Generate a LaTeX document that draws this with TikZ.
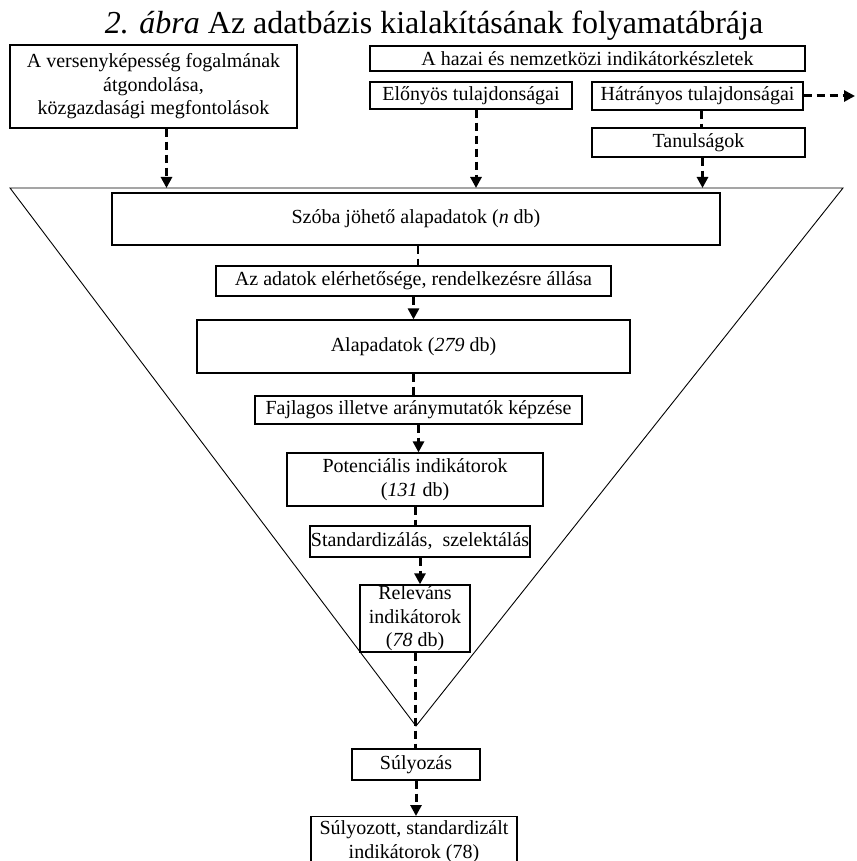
\documentclass[tikz,border=0pt]{standalone}
\usepackage{fontspec}
\setmainfont{Liberation Serif}
\usetikzlibrary{arrows.meta}
\tikzset{
  box/.style={draw, line width=1.2pt, inner sep=1pt, align=center,
              font=\fontsize{20}{23.5}\selectfont},
  funnel/.style={draw, line width=0.9pt},
  link/.style={line width=3pt, dash pattern=on 8pt off 5pt},
  thinlink/.style={link, line width=1.6pt},
  arrow/.style={link, -{Triangle[length=11pt,width=11pt]}}
}

\begin{document}
\begin{tikzpicture}[x=1pt, y=-1pt]
  \useasboundingbox (0,0) rectangle (856,861);
  \node[anchor=base, font=\fontsize{32}{38}\selectfont] (title) at (434,34)
    {\textit{2. ábra} Az adatbázis kialakításának folyamatábrája};

  % funnel
  \coordinate (tl) at (10,188);
  \coordinate (tr) at (843,188);
  \coordinate (tip) at (416,726);
  \draw[funnel] (tl) -- (tr) -- (tip) -- cycle;

  % sources on top
  \node[box, minimum width=287pt, minimum height=83pt] (conc) at (153.5,86.5)
    {A versenyképesség fogalmának\\átgondolása,\\közgazdasági megfontolások};
  \node[box, minimum width=435pt, minimum height=25pt] (kesz) at (587.5,58.5)
    {A hazai és nemzetközi indikátorkészletek};
  \node[box, minimum width=202pt, minimum height=27pt] (elony) at (471,95.5)
    {Előnyös tulajdonságai};
  \node[box, minimum width=211pt, minimum height=28pt] (hatr) at (697.5,96)
    {Hátrányos tulajdonságai};
  \node[box, minimum width=213pt, minimum height=29pt] (tanul) at (698.5,142.5)
    {Tanulságok};
  \coordinate (out) at (855,96);

  % steps inside the funnel
  \node[box, minimum width=608pt, minimum height=52pt] (szoba) at (416,219)
    {Szóba jöhető alapadatok (\textit{n} db)};
  \node[box, minimum width=395pt, minimum height=30pt] (eler) at (413.5,281)
    {Az adatok elérhetősége, rendelkezésre állása};
  \node[box, minimum width=433pt, minimum height=53pt] (alap) at (413.5,346.5)
    {Alapadatok (\textit{279} db)};
  \node[box, minimum width=327pt, minimum height=28pt] (fajl) at (418.5,410)
    {Fajlagos illetve aránymutatók képzése};
  \node[box, minimum width=256pt, minimum height=53pt] (pot) at (415,479.5)
    {Potenciális indikátorok\\(\textit{131} db)};
  \node[box, minimum width=220pt, minimum height=31pt, inner sep=0pt] (stand) at (420,541.5)
    {Standardizálás,\ \ szelektálás};
  \node[box, minimum width=110pt, minimum height=67pt] (relev) at (415,618.5)
    {Releváns\\indikátorok\\(\textit{78} db)};
  \node[box, minimum width=128pt, minimum height=31pt] (suly) at (416,764.5)
    {Súlyozás};
  \node[box, anchor=north, minimum width=206pt, minimum height=50pt] (sulyind) at (414,816)
    {Súlyozott, standardizált\\indikátorok (78)};

  % connectors
  \draw[arrow] ([xshift=13pt]conc.south) -- ([xshift=13pt]conc.south |- tl);
  \draw[arrow] ([xshift=5pt]elony.south) -- ([xshift=5pt]elony.south |- tl);
  \draw[link] ([xshift=4pt]hatr.south) -- ([xshift=4pt]hatr.south |- tanul.north);
  \draw[arrow] ([xshift=4pt]tanul.south) -- ([xshift=4pt]tanul.south |- tl);
  \draw[arrow] (hatr.east) -- (out);
  \draw[thinlink] ([xshift=2pt]szoba.south) -- ([xshift=2pt]szoba.south |- eler.north);
  \foreach \u/\v/\s in {eler/alap/arrow, alap/fajl/link, fajl/pot/arrow,
                        pot/stand/link, stand/relev/arrow, relev/suly/link,
                        suly/sulyind/arrow}
    \draw[\s] (\u.south) -- (\u.south |- \v.north);
\end{tikzpicture}
\end{document}
